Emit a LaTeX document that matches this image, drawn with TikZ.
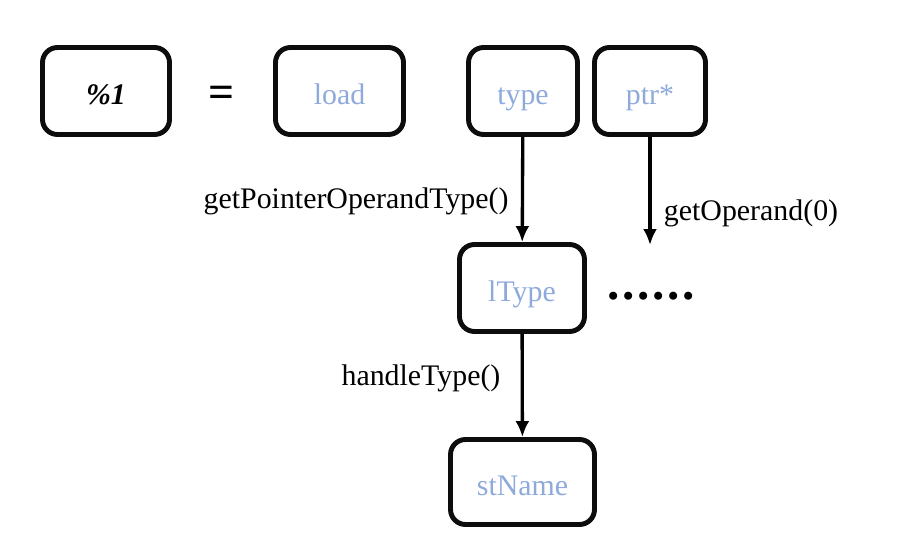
\documentclass[tikz,border=0pt]{standalone}
\usepackage{fontspec}
\setmainfont{Liberation Serif}
\usetikzlibrary{arrows.meta}
\definecolor{lblue}{RGB}{142,170,219}
\begin{document}
\begin{tikzpicture}[x=0.02cm,y=-0.02cm,
    box/.style={draw=black!95, line width=2.8pt, rounded corners=0.3cm, text=lblue, minimum height=1.74cm, text height=16.2pt, text depth=1.4pt, font=\fontsize{17}{20}\selectfont},
    arr/.style={line width=1.9pt, -{Latex[length=3.2mm,width=2.8mm]}},
    lbl/.style={font=\fontsize{17}{20}\selectfont}]
\useasboundingbox (0,0) rectangle (898,554);

\node [box, minimum width=2.54cm, text=black] (pct) at (106,91) {\textbf{\textit{\%1}}};
\node [font=\fontsize{26}{30}\bfseries] (eq) at (222,97) {=};
\node [box, minimum width=2.56cm] (load) at (339.5,91) {load};
\node [box, minimum width=2.18cm] (type) at (523,91) {type};
\node [box, minimum width=2.22cm] (ptr) at (650,91) {ptr*};
\node [box, minimum width=2.5cm] (ltype) at (522,288) {lType};
\node [box, minimum width=2.88cm, minimum height=1.7cm] (stname) at (522.5,482) {stName};
\coordinate (pend) at (650,245);
\node [font=\fontsize{28}{32}\bfseries\addfontfeature{LetterSpace=5.5}] (dots) at (651,296) {......};

\draw [arr] (type) -- (ltype) node [lbl, pos=0.61, anchor=east, inner sep=7pt] (l1) {getPointerOperandType()};
\draw [arr] (ptr) -- (pend) node [lbl, pos=0.71, anchor=west, inner sep=7pt] (l2) {getOperand(0)};
\draw [arr] (ltype) -- (stname) node [lbl, pos=0.43, anchor=east, inner sep=11.5pt] (l3) {handleType()};

\end{tikzpicture}
\end{document}
